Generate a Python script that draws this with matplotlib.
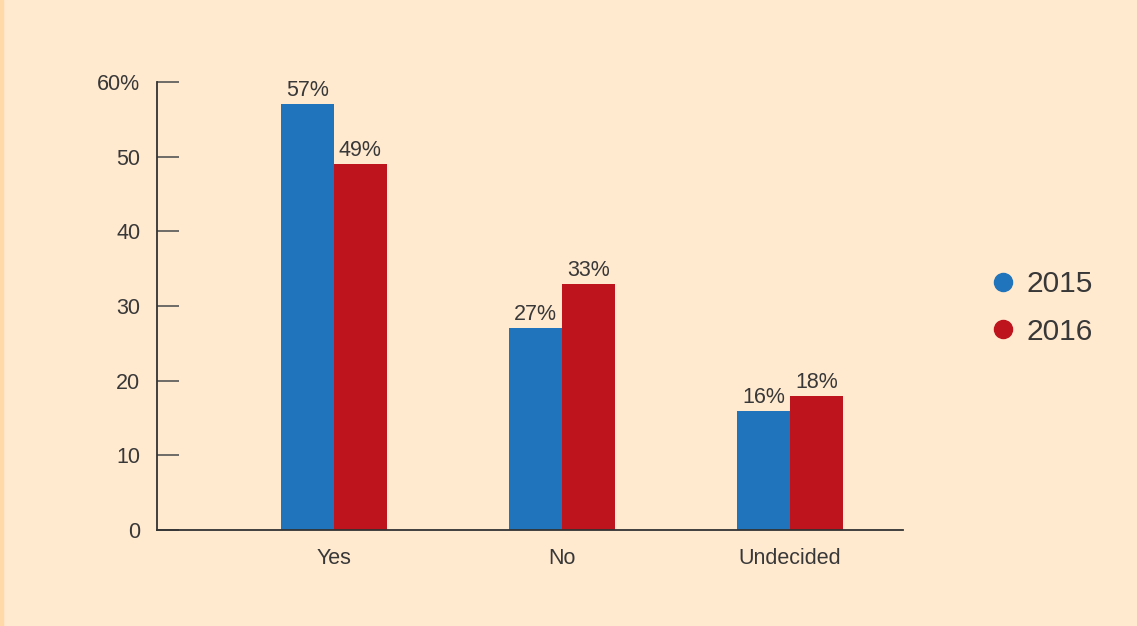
import matplotlib.pyplot as plt
from matplotlib.lines import Line2D
from matplotlib.patches import Rectangle
import numpy as np

categories = ["Yes", "No", "Undecided"]
values_2015 = [57, 27, 16]
values_2016 = [49, 33, 18]
series_names = ["2015", "2016"]
yticks = [0, 10, 20, 30, 40, 50, 60]
ytick_labels = ["0", "10", "20", "30", "40", "50", "60%"]

blue = "#1F74BB"
red = "#BE141D"
bg = "#FFE9CF"
text_col = "#383838"

plt.rcParams["font.family"] = ["Liberation Sans", "DejaVu Sans"]

fig = plt.figure(figsize=(11.37, 6.26), dpi=100, facecolor=bg)
fig.patches.append(Rectangle((0, 0), 3 / 1137, 1, transform=fig.transFigure,
                             color="#FFD9A8", zorder=0))
ax = fig.add_axes([157 / 1137, 96 / 626, 746 / 1137, 448 / 626])
ax.set_facecolor(bg)

x = np.arange(len(categories))
w = 0.2325
b1 = ax.bar(x - w / 2, values_2015, w, color=blue)
b2 = ax.bar(x + w / 2, values_2016, w, color=red)

for bars, vals in [(b1, values_2015), (b2, values_2016)]:
    for bar, v in zip(bars, vals):
        ax.text(bar.get_x() + bar.get_width() / 2, v + 0.4, f"{v}%",
                ha="center", va="bottom", fontsize=15.5, color=text_col)

ax.set_xlim(-0.776, 2.496)
ax.set_ylim(0, 60)
ax.set_xticks(x)
ax.set_xticklabels(categories)
ax.set_yticks(yticks)
ax.set_yticklabels(ytick_labels)
ax.tick_params(axis="x", length=0, pad=13, labelsize=15.5, labelcolor=text_col)
ax.tick_params(axis="y", direction="in", length=16, width=1.2, color="#555555",
               pad=12, labelsize=15.5, labelcolor=text_col)

for s in ["top", "right"]:
    ax.spines[s].set_visible(False)
for s in ["left", "bottom"]:
    ax.spines[s].set_color("#333333")
    ax.spines[s].set_linewidth(1.3)

handles = [Line2D([], [], marker="o", linestyle="none", markersize=13,
                  markerfacecolor=c, markeredgecolor=c) for c in (blue, red)]
fig.legend(handles, series_names, loc="center left",
           bbox_to_anchor=(958 / 1137, 0.508), frameon=False, fontsize=21.5,
           handletextpad=0.2, labelspacing=0.65, labelcolor=text_col,
           handlelength=1.2)

fig.savefig("out.png", dpi=100, facecolor=bg)
